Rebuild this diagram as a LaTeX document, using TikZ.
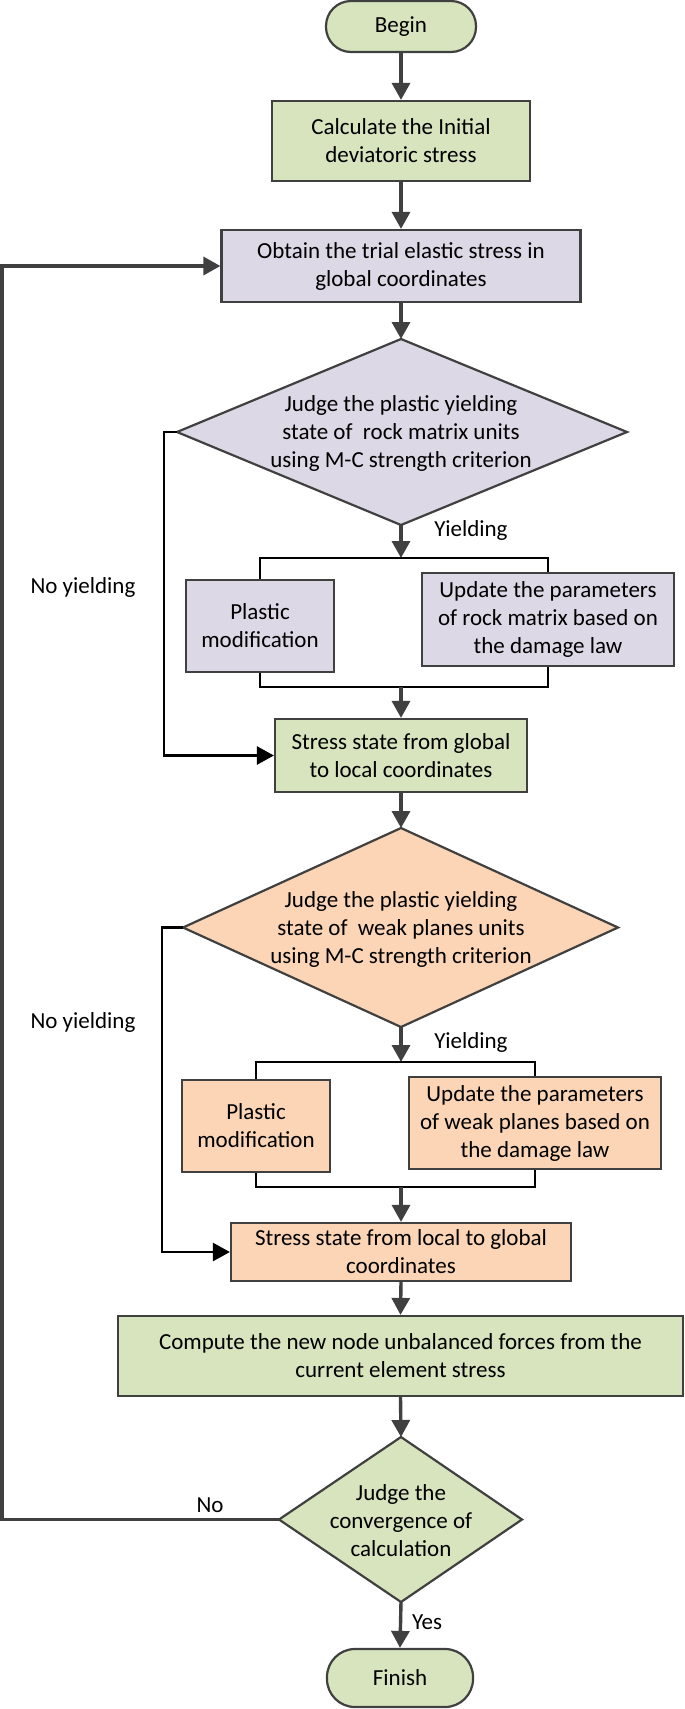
\documentclass[tikz,border=0pt]{standalone}
\usepackage{fontspec}
\setmainfont{Carlito}
\usetikzlibrary{arrows.meta}
\definecolor{gfill}{HTML}{D7E4BD}
\definecolor{pfill}{HTML}{DDD8E6}
\definecolor{ofill}{HTML}{FBD5B5}
\definecolor{lgray}{HTML}{404040}
\begin{document}
\begin{tikzpicture}[x=1pt,y=-1pt,
  every node/.style={font=\fontsize{23}{28}\selectfont, align=center, inner sep=0pt, text=black},
  box/.style={draw=lgray, line width=2.2pt},
  term/.style={draw=lgray, line width=2.2pt, fill=gfill, rounded corners=25pt},
  dia/.style={draw=lgray, line width=2.2pt},
  flow/.style={draw=lgray, line width=3.4pt, -{Triangle[length=17pt,width=18pt]}},
  bline/.style={draw=black, line width=2pt},
  nline/.style={draw=black, line width=2.6pt, -{Triangle[length=17pt,width=18pt]}},
  lbl/.style={font=\fontsize{23}{28}\selectfont}]
\useasboundingbox (0,0) rectangle (685,1709);

% terminals and boxes
\node[term, minimum width=150pt, minimum height=51pt] (begin) at (401,26.5) {Begin};
\node[box, fill=gfill, minimum width=258pt, minimum height=80pt] (calc) at (401,141) {Calculate the Initial\\deviatoric stress};
\node[box, fill=pfill, minimum width=359pt, minimum height=72pt] (obtain) at (401,266) {Obtain the trial elastic stress in\\global coordinates};

% diamond 1
\draw[dia, fill=pfill] (401,339) coordinate (d1t) -- (627,432) coordinate (d1r) -- (401,525) coordinate (d1b) -- (177,432) coordinate (d1l) -- cycle;
\node (d1) at (401,433) {Judge the plastic yielding\\state of\ \ rock matrix units\\using M-C strength criterion};

\coordinate (br1) at (401,558);
\coordinate (mg1) at (401,687);
\node[box, fill=pfill, minimum width=148pt, minimum height=92pt] (plast1) at (260,626) {Plastic\\modification};
\node[box, fill=pfill, minimum width=252pt, minimum height=93pt] (upd1) at (548,619.5) {Update the parameters\\of rock matrix based on\\the damage law};
\node[box, fill=gfill, minimum width=252pt, minimum height=73pt] (stress1) at (401,755.5) {Stress state from global\\to local coordinates};

% diamond 2
\draw[dia, fill=ofill] (401,828) coordinate (d2t) -- (618,927.5) coordinate (d2r) -- (401,1027) coordinate (d2b) -- (183,927.5) coordinate (d2l) -- cycle;
\node (d2) at (401,929) {Judge the plastic yielding\\state of\ \ weak planes units\\using M-C strength criterion};

\coordinate (br2) at (401,1062);
\coordinate (mg2) at (401,1187);
\node[box, fill=ofill, minimum width=148pt, minimum height=92pt] (plast2) at (256,1126) {Plastic\\modification};
\node[box, fill=ofill, minimum width=252pt, minimum height=92pt] (upd2) at (535,1123) {Update the parameters\\of weak planes based on\\the damage law};
\node[box, fill=ofill, minimum width=340pt, minimum height=58pt] (stress2) at (401,1252) {Stress state from local to global\\coordinates};

\node[box, fill=gfill, minimum width=565pt, minimum height=80pt] (comp) at (400.5,1356) {Compute the new node unbalanced forces from the\\current element stress};

% diamond 3
\draw[dia, fill=gfill] (401,1437) coordinate (d3t) -- (522,1519.5) coordinate (d3r) -- (401,1602) coordinate (d3b) -- (279,1519.5) coordinate (d3l) -- cycle;
\node (d3) at (401,1521) {Judge the\\convergence of\\calculation};

\node[term, minimum width=146pt, minimum height=58pt, rounded corners=28pt] (finish) at (400,1678) {Finish};

% main flow
\draw[flow] (begin.south) -- (calc.north);
\draw[flow] (calc.south) -- (obtain.north);
\draw[flow] (obtain.south) -- (d1t);
\draw[flow] (d1b) -- (br1);
\draw[bline] (plast1.north) |- (br1) -| (upd1.north);
\draw[bline] (plast1.south) |- (mg1) -| (upd1.south);
\draw[flow] (mg1) -- (stress1.north);
\draw[flow] (stress1.south) -- (d2t);
\draw[flow] (d2b) -- (br2);
\draw[bline] (plast2.north) |- (br2) -| (upd2.north);
\draw[bline] (plast2.south) |- (mg2) -| (upd2.south);
\draw[flow] (mg2) -- (stress2.north);
\draw[flow] (stress2.south) -- (comp.north);
\draw[flow] (comp.south) -- (d3t);
\draw[flow] (d3b) -- (finish.north);

% no-yielding bypasses
\coordinate (ny1) at (164,432);
\coordinate (ny2) at (162,927.5);
\draw[nline] (d1l) -- (ny1) |- (stress1.west);
\draw[nline] (d2l) -- (ny2) |- (stress2.west);

% loop back
\coordinate (lp) at (2,1519.5);
\draw[flow] (d3l) -- (lp) |- (obtain.west);

% labels
\node[lbl] (ly1) at (471,530) {Yielding};
\node[lbl] (ly2) at (471,1042) {Yielding};
\node[lbl] (lny1) at (83,587) {No yielding};
\node[lbl] (lny2) at (83,1022) {No yielding};
\node[lbl] (lno) at (210,1505) {No};
\node[lbl] (lyes) at (427,1622) {Yes};
\end{tikzpicture}
\end{document}
